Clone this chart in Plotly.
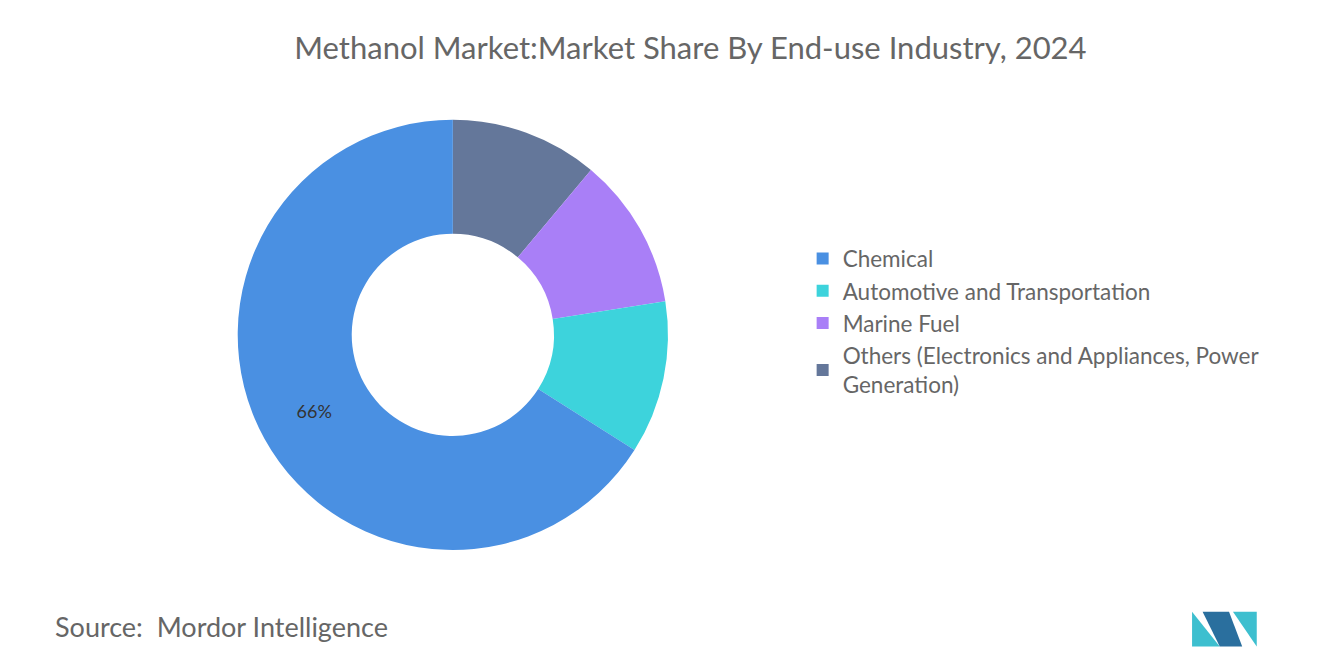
import plotly.graph_objects as go

labels = ["Others (Electronics and Appliances, Power<br>Generation)", "Marine Fuel",
          "Automotive and Transportation", "Chemical"]
values = [11.1, 11.4, 11.5, 66]
colors = ["#64779a", "#a97ff7", "#3dd3dc", "#4a90e2"]
texts = ["", "", "", "66%"]

fig = go.Figure(go.Pie(
    labels=labels, values=values, sort=False, direction="clockwise",
    rotation=0, hole=0.47, marker=dict(colors=colors),
    text=texts, textinfo="text", textposition="inside",
    insidetextorientation="horizontal",
    textfont=dict(family="Lato", size=18, color="#333333"),
    domain=dict(x=[0.174, 0.5], y=[0.185, 0.832]), hoverinfo="label+percent",
))
fig.update_layout(
    width=1320, height=665, margin=dict(l=0, r=0, t=0, b=0),
    paper_bgcolor="white", plot_bgcolor="white",
    font=dict(family="Lato", color="#666666"),
    title=dict(text="Methanol Market:Market Share By End-use Industry, 2024",
               x=0.517, xanchor="center", y=0.939, yanchor="middle",
               font=dict(family="Lato", size=31, color="#666666")),
    legend=dict(x=0.602, y=0.655, xanchor="left", yanchor="top",
                traceorder="reversed",
                font=dict(family="Lato", size=22.5, color="#666666"),
                itemsizing="constant", tracegroupgap=0),
    annotations=[dict(text="Source:  Mordor Intelligence", x=0.034, y=0.07,
                      xref="paper", yref="paper", xanchor="left", yanchor="middle",
                      showarrow=False, font=dict(family="Lato", size=27, color="#666666"))],
    shapes=[
        dict(type="path", xref="paper", yref="paper",
             path="M 0.897 0.04 L 0.897 0.092 L 0.918 0.04 Z", fillcolor="#3dbfcf", line_width=0),
        dict(type="path", xref="paper", yref="paper",
             path="M 0.905 0.092 L 0.925 0.092 L 0.935 0.04 L 0.918 0.04 Z", fillcolor="#2a6f9e", line_width=0),
        dict(type="path", xref="paper", yref="paper",
             path="M 0.928 0.092 L 0.946 0.092 L 0.946 0.04 Z", fillcolor="#3dbfcf", line_width=0),
    ],
)
fig.write_html("out.html")
